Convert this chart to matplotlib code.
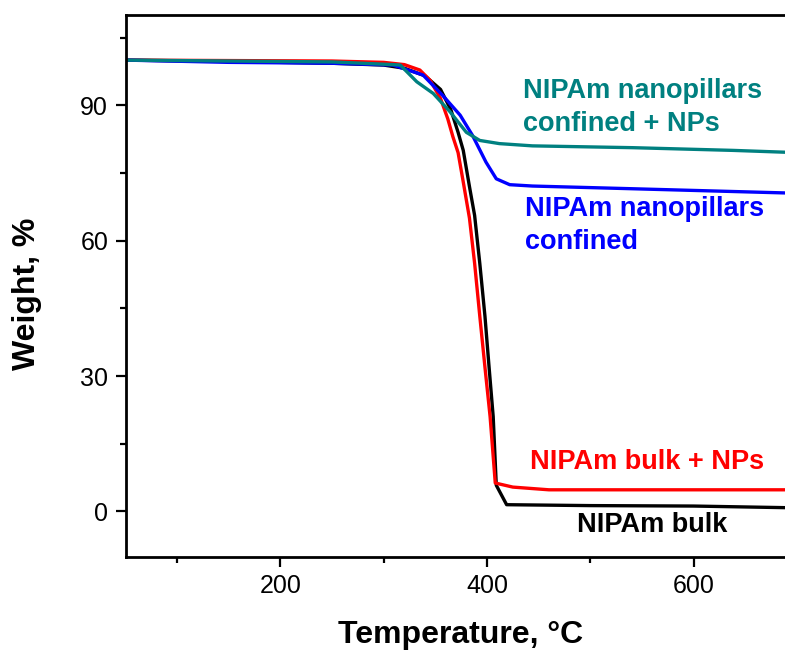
import matplotlib
matplotlib.use("Agg")
import matplotlib.pyplot as plt
from matplotlib.ticker import MultipleLocator

plt.rcParams['font.family'] = ['Liberation Sans', 'DejaVu Sans']

# TGA curves
t_bulk = [50, 150, 250, 300, 320, 340, 355, 365, 372, 377, 383, 388, 393, 398, 402, 406, 409, 419, 500, 600, 700]
w_bulk = [100, 99.7, 99.3, 98.9, 98.2, 96.5, 93.5, 89, 84, 80, 72, 65.6, 55, 43.3, 32, 21, 5.8, 1.5, 1.3, 1.2, 0.8]

t_bulk_np = [50, 150, 250, 300, 320, 335, 345, 355, 362, 367, 372, 377, 383, 388, 393, 398, 403, 408, 425, 460, 700]
w_bulk_np = [100, 99.9, 99.8, 99.5, 99, 97.8, 95.5, 91.5, 87, 83, 79.5, 73, 65, 55, 43.3, 32, 21, 6.3, 5.4, 4.8, 4.8]

t_pill = [50, 150, 250, 309, 338, 357, 374, 386, 399, 409, 422, 444, 541, 700]
w_pill = [100, 99.5, 99.3, 98.9, 96.7, 92.2, 87.8, 83.3, 77.4, 73.7, 72.4, 72.1, 71.5, 70.5]

t_pill_np = [50, 150, 250, 309, 316, 332, 348, 364, 380, 393, 412, 444, 541, 638, 700]
w_pill_np = [100, 99.8, 99.6, 99, 98.9, 95.2, 92.6, 88.6, 84, 82.2, 81.5, 81, 80.6, 80, 79.5]

fig = plt.figure(figsize=(7.85, 6.51), dpi=100)
ax = fig.add_axes([0.160, 0.145, 0.855, 0.832])

ax.plot(t_bulk, w_bulk, color="black", lw=2.4)
ax.plot(t_bulk_np, w_bulk_np, color="#ff0000", lw=2.4)
ax.plot(t_pill, w_pill, color="#0000ff", lw=2.4)
ax.plot(t_pill_np, w_pill_np, color="#008080", lw=2.4)

ax.set_xlim(50, 700)
ax.set_ylim(-10, 110)
ax.xaxis.set_major_locator(MultipleLocator(200))
ax.xaxis.set_minor_locator(MultipleLocator(100))
ax.yaxis.set_major_locator(MultipleLocator(30))
ax.yaxis.set_minor_locator(MultipleLocator(15))

for s in ax.spines.values():
    s.set_linewidth(2)
ax.tick_params(which="major", length=7.5, width=1.6, labelsize=18, pad=5)
ax.tick_params(which="minor", length=4.5, width=1.6)

fig.text(461 / 785, 8 / 651, "Temperature, \u00b0C", fontsize=23, fontweight="bold",
         ha="center", va="baseline")
fig.text(27 / 785, 1 - 294 / 651, "Weight, %", fontsize=23, fontweight="bold",
         ha="center", va="center", rotation=90)

kw = dict(fontsize=19.5, fontweight="bold", va="baseline")
ax.text(434.6, 91.5, "NIPAm nanopillars", color="#008080", **kw)
ax.text(434.6, 84.2, "confined + NPs", color="#008080", **kw)
ax.text(436.5, 65.5, "NIPAm nanopillars", color="#0000ff", **kw)
ax.text(436.5, 58.2, "confined", color="#0000ff", **kw)
ax.text(441.4, 9.3, "NIPAm bulk + NPs", color="#ff0000", **kw)
ax.text(487, -4.5, "NIPAm bulk", color="black", **kw)

fig.savefig("out.png", dpi=100)
